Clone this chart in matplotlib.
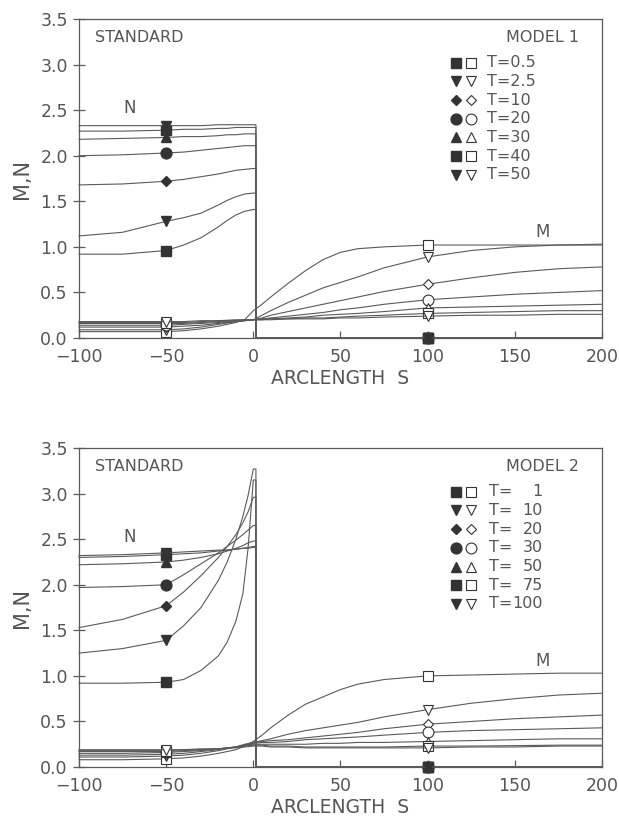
import numpy as np
import matplotlib
matplotlib.use('Agg')
import matplotlib.pyplot as plt

# ---- data ----
# Model 1
times_1 = ['0.5', '2.5', '10', '20', '30', '40', '50']
n_s_1 = [-100, -75, -50, -40, -30, -20, -15, -10, -5, 0]
n_1 = [
    [0.92, 0.92, 0.96, 1.02, 1.10, 1.22, 1.29, 1.35, 1.39, 1.41],
    [1.12, 1.16, 1.28, 1.32, 1.37, 1.46, 1.51, 1.55, 1.58, 1.59],
    [1.68, 1.69, 1.72, 1.74, 1.77, 1.80, 1.82, 1.84, 1.85, 1.86],
    [2.00, 2.01, 2.03, 2.04, 2.06, 2.08, 2.09, 2.10, 2.11, 2.11],
    [2.18, 2.19, 2.20, 2.21, 2.21, 2.22, 2.23, 2.23, 2.24, 2.24],
    [2.27, 2.27, 2.28, 2.29, 2.29, 2.30, 2.30, 2.31, 2.31, 2.31],
    [2.33, 2.33, 2.33, 2.33, 2.33, 2.34, 2.34, 2.34, 2.34, 2.34],
]
m_s = [-100, -75, -50, -40, -30, -20, -10, -5, 0, 5, 10, 20, 30, 40, 50, 60, 75, 100, 125, 150, 175, 200]
m_1 = [
    [0.07, 0.07, 0.07, 0.08, 0.10, 0.13, 0.17, 0.20, 0.30, 0.37, 0.45, 0.60, 0.74, 0.86, 0.94, 0.98, 1.00, 1.02, 1.02, 1.02, 1.02, 1.02],
    [0.09, 0.09, 0.09, 0.10, 0.12, 0.15, 0.18, 0.19, 0.20, 0.25, 0.30, 0.39, 0.47, 0.55, 0.61, 0.67, 0.77, 0.89, 0.96, 1.00, 1.02, 1.03],
    [0.12, 0.12, 0.12, 0.13, 0.14, 0.16, 0.18, 0.19, 0.20, 0.22, 0.25, 0.29, 0.33, 0.37, 0.41, 0.45, 0.51, 0.59, 0.66, 0.72, 0.76, 0.78],
    [0.14, 0.14, 0.14, 0.15, 0.16, 0.17, 0.19, 0.19, 0.20, 0.21, 0.22, 0.24, 0.26, 0.28, 0.31, 0.33, 0.37, 0.42, 0.45, 0.48, 0.50, 0.52],
    [0.16, 0.16, 0.16, 0.16, 0.17, 0.18, 0.19, 0.20, 0.20, 0.21, 0.21, 0.22, 0.23, 0.25, 0.26, 0.27, 0.29, 0.33, 0.34, 0.35, 0.36, 0.37],
    [0.17, 0.17, 0.17, 0.17, 0.18, 0.19, 0.19, 0.20, 0.20, 0.20, 0.21, 0.21, 0.22, 0.22, 0.23, 0.24, 0.25, 0.27, 0.28, 0.29, 0.30, 0.30],
    [0.18, 0.18, 0.18, 0.18, 0.19, 0.19, 0.20, 0.20, 0.20, 0.20, 0.20, 0.21, 0.21, 0.21, 0.22, 0.22, 0.23, 0.24, 0.25, 0.25, 0.26, 0.26],
]

# Model 2
times_2 = ['1', '10', '20', '30', '50', '75', '100']
n_s_2 = [-100, -75, -50, -40, -30, -20, -15, -10, -6, -3, 0]
n_2 = [
    [0.92, 0.92, 0.93, 0.96, 1.06, 1.22, 1.37, 1.60, 1.90, 2.40, 3.15],
    [1.25, 1.30, 1.39, 1.55, 1.75, 2.05, 2.25, 2.50, 2.75, 2.98, 3.27],
    [1.53, 1.62, 1.77, 1.92, 2.10, 2.30, 2.42, 2.55, 2.68, 2.80, 2.96],
    [1.97, 1.98, 2.00, 2.11, 2.23, 2.35, 2.42, 2.49, 2.55, 2.60, 2.65],
    [2.22, 2.23, 2.25, 2.27, 2.30, 2.34, 2.37, 2.40, 2.43, 2.46, 2.48],
    [2.30, 2.31, 2.33, 2.34, 2.35, 2.37, 2.38, 2.39, 2.40, 2.41, 2.42],
    [2.32, 2.33, 2.35, 2.36, 2.37, 2.38, 2.38, 2.39, 2.40, 2.40, 2.41],
]
m_2 = [
    [0.08, 0.08, 0.09, 0.10, 0.12, 0.15, 0.19, 0.23, 0.28, 0.35, 0.43, 0.57, 0.69, 0.77, 0.85, 0.91, 0.96, 1.00, 1.01, 1.02, 1.03, 1.03],
    [0.11, 0.11, 0.12, 0.13, 0.15, 0.18, 0.22, 0.25, 0.27, 0.29, 0.31, 0.36, 0.40, 0.43, 0.46, 0.49, 0.55, 0.63, 0.70, 0.75, 0.79, 0.81],
    [0.13, 0.13, 0.14, 0.15, 0.17, 0.19, 0.22, 0.24, 0.27, 0.28, 0.29, 0.30, 0.32, 0.34, 0.36, 0.38, 0.42, 0.47, 0.50, 0.53, 0.55, 0.57],
    [0.15, 0.15, 0.16, 0.17, 0.18, 0.20, 0.22, 0.24, 0.26, 0.27, 0.27, 0.28, 0.30, 0.31, 0.32, 0.33, 0.35, 0.38, 0.40, 0.41, 0.42, 0.43],
    [0.17, 0.17, 0.17, 0.18, 0.19, 0.20, 0.22, 0.24, 0.25, 0.25, 0.25, 0.25, 0.25, 0.26, 0.26, 0.27, 0.27, 0.28, 0.29, 0.30, 0.31, 0.31],
    [0.18, 0.18, 0.18, 0.19, 0.19, 0.20, 0.22, 0.23, 0.24, 0.24, 0.23, 0.23, 0.22, 0.22, 0.22, 0.22, 0.22, 0.23, 0.23, 0.235, 0.24, 0.24],
    [0.19, 0.19, 0.19, 0.19, 0.20, 0.20, 0.21, 0.22, 0.23, 0.23, 0.22, 0.22, 0.21, 0.21, 0.21, 0.21, 0.21, 0.21, 0.22, 0.22, 0.23, 0.23],
]

n_drop_s = 1.5          # N falls to zero just right of s=0
mark_s = [-50, 100]     # where the symbols sit on each curve
markers = ['s', 'v', 'D', 'o', '^', 's', 'v']

LINE = '#5a5a5a'
MARK = '#333333'
TEXT = '#555555'
plt.rcParams['font.family'] = 'DejaVu Sans'


def msize(m):
    return 5.5 if m == 'D' else 7.8


def draw_panel(ax, times, n_s, n_vals, m_vals, model, legend_fmt):
    for i, t in enumerate(times):
        mk = markers[i]
        # N: defined for s<0, zero beyond the interface
        s_full = list(n_s) + [n_drop_s, n_drop_s, 100, 200]
        v_full = list(n_vals[i]) + [n_vals[i][-1], 0, 0, 0]
        idx = [s_full.index(s) for s in mark_s]
        ax.plot(s_full, v_full, color=LINE, lw=0.8, marker=mk, markevery=idx,
                ms=msize(mk), mfc=MARK, mec=MARK, zorder=3, clip_on=False)
        # M: open symbols
        idx = [m_s.index(s) for s in mark_s]
        ax.plot(m_s, m_vals[i], color=LINE, lw=0.8, marker=mk, markevery=idx,
                ms=msize(mk), mfc='white', mec=MARK, mew=0.8, zorder=2, clip_on=False)

        # legend rows
        y = 3.02 - 0.205 * i
        ax.plot([116], [y], marker=mk, ms=msize(mk), mfc=MARK, mec=MARK, ls='none', clip_on=False)
        ax.plot([125], [y], marker=mk, ms=msize(mk), mfc='white', mec=MARK, mew=0.8, ls='none', clip_on=False)
        if legend_fmt == 'left':
            ax.text(134, y, 'T=' + t, fontsize=11.5, color=TEXT, va='center', ha='left')
        else:
            ax.text(135, y, 'T=', fontsize=11.5, color=TEXT, va='center', ha='left')
            ax.text(166, y, t, fontsize=11.5, color=TEXT, va='center', ha='right')

    ax.text(-91, 3.3, 'STANDARD', fontsize=11.5, color=TEXT, va='center', ha='left')
    ax.text(187, 3.3, model, fontsize=11.5, color=TEXT, va='center', ha='right')
    ax.text(-71, 2.52, 'N', fontsize=12, color=TEXT, va='center', ha='center')
    ax.text(166, 1.16, 'M', fontsize=12, color=TEXT, va='center', ha='center')

    ax.set_xlim(-100, 200)
    ax.set_ylim(0, 3.5)
    ax.set_xticks(np.arange(-100, 201, 50))
    ax.set_yticks(np.arange(0, 3.51, 0.5))
    ax.set_yticklabels([f'{v:.1f}' for v in np.arange(0, 3.51, 0.5)])
    ax.tick_params(axis='y', direction='inout', length=8, width=0.9, colors=LINE,
                   labelcolor=TEXT, labelsize=12.5, pad=4)
    ax.tick_params(axis='x', direction='in', length=5, width=0.9, colors=LINE,
                   labelcolor=TEXT, labelsize=12.5, pad=7)
    for sp in ax.spines.values():
        sp.set_color(LINE)
        sp.set_linewidth(0.9)
    ax.set_xlabel('ARCLENGTH  S', fontsize=13.5, color=TEXT, labelpad=2)
    ax.set_ylabel('M,N', fontsize=15, color=TEXT, labelpad=6)


fig = plt.figure(figsize=(6.19, 8.23), dpi=100)
ax1 = fig.add_axes([0.1276, 0.5893, 0.8449, 0.3876])
ax2 = fig.add_axes([0.1276, 0.0680, 0.8449, 0.3876])

draw_panel(ax1, times_1, n_s_1, n_1, m_1, 'MODEL 1', 'left')
draw_panel(ax2, times_2, n_s_2, n_2, m_2, 'MODEL 2', 'right')

fig.savefig('out.png', dpi=100)
